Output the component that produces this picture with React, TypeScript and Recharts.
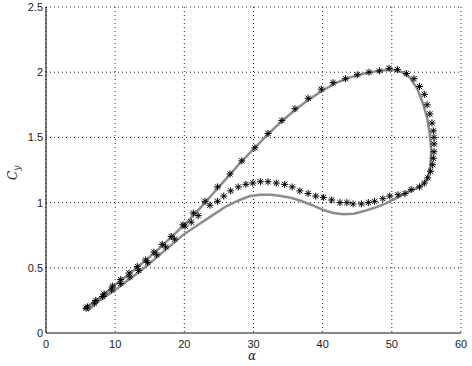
import { ScatterChart, Scatter, XAxis, YAxis, CartesianGrid } from 'recharts'

// gray model curve (loop: upper branch out, lower branch back)
const lineAlpha = [
  5.4, 8, 10, 12, 14, 16, 18, 20, 22, 24, 26, 28, 30, 32, 34, 36, 38, 40, 42, 44, 46, 48, 50,
  51.5, 52.6, 53.7, 54.5, 55.1, 55.5, 55.7, 55.6, 55.2, 54.6, 53.5, 52.3, 50.5, 49, 47.5, 46,
  44.5, 43, 41.5, 40, 38.5, 37, 35.5, 34, 32.5, 31, 29.5, 28, 26, 24, 22, 20, 18, 16, 14, 12,
  10, 8, 6
]
const lineCy = [
  0.18, 0.28, 0.37, 0.45, 0.54, 0.63, 0.73, 0.83, 0.94, 1.06, 1.18, 1.3, 1.41, 1.52, 1.62, 1.71,
  1.79, 1.86, 1.92, 1.96, 1.99, 2.01, 2.02, 2.0, 1.96, 1.87, 1.76, 1.65, 1.52, 1.4, 1.28, 1.19,
  1.14, 1.11, 1.08, 1.03, 0.99, 0.96, 0.935, 0.915, 0.91, 0.92, 0.945, 0.98, 1.01, 1.035, 1.05,
  1.06, 1.06, 1.05, 1.02, 0.97, 0.9, 0.83, 0.76, 0.67, 0.58, 0.49, 0.41, 0.33, 0.26, 0.17
]

// measured points (asterisks)
const starAlpha = [
  6.0, 7.2, 8.4, 9.6, 10.8, 12.0, 13.2, 14.4, 15.6, 16.8, 18.1, 19.8, 21.3, 23.0, 24.8, 26.6,
  28.3, 30.2, 32.1, 34.1, 36.0, 37.9, 39.8, 41.5, 43.3, 45.0, 46.7, 48.2, 49.6, 50.8, 52.1, 53.2,
  54.0, 54.7, 55.1, 55.5, 55.8, 56.0, 56.1, 56.1, 56.1, 56.0, 55.9, 55.6, 55.2, 54.7, 54.0, 52.8,
  51.9, 50.9, 49.7, 48.7, 47.5, 46.6, 45.6, 44.4, 43.5, 42.5, 41.3, 40.1, 39.0, 37.9, 36.7, 35.6,
  34.5, 33.3, 32.1, 31.0, 29.9, 28.9, 27.8, 26.7, 25.7, 24.8, 23.7, 22.0, 21.0, 20.1, 18.6, 17.3,
  16.0, 14.7, 13.4, 12.1, 10.8, 9.5, 8.2, 7.0, 5.8
]
const starCy = [
  0.2, 0.25, 0.3, 0.36, 0.41, 0.46, 0.51, 0.56, 0.62, 0.68, 0.74, 0.83, 0.92, 1.01, 1.12, 1.22,
  1.32, 1.42, 1.53, 1.63, 1.72, 1.8, 1.87, 1.92, 1.95, 1.98, 2.0, 2.01, 2.03, 2.02, 1.99, 1.95,
  1.89, 1.83, 1.75, 1.68, 1.61, 1.55, 1.5, 1.45, 1.39, 1.34, 1.29, 1.24, 1.19, 1.15, 1.12, 1.1,
  1.07, 1.06, 1.05, 1.03, 1.01, 1.0, 0.99, 0.99, 1.0, 1.0, 1.02, 1.04, 1.05, 1.07, 1.09, 1.12,
  1.14, 1.15, 1.16, 1.16, 1.15, 1.14, 1.12, 1.09, 1.05, 1.01, 0.98, 0.9, 0.85, 0.82, 0.72, 0.66,
  0.6, 0.54, 0.48, 0.43, 0.38, 0.33, 0.28, 0.23, 0.19
]

const xTicks = [0, 10, 20, 30, 40, 50, 60]
const yTicks = [0, 0.5, 1, 1.5, 2, 2.5]

const lineData = lineAlpha.map((a, i) => ({ alpha: a, cy: lineCy[i] }))
const starData = starAlpha.map((a, i) => ({ alpha: a, cy: starCy[i] }))

const NoDot = () => <g />

const Asterisk = ({ cx, cy }: any) => {
  const r = 3.5
  const d = 2.6
  return (
    <g stroke="#000" strokeWidth={1}>
      <line x1={cx - r} y1={cy} x2={cx + r} y2={cy} />
      <line x1={cx} y1={cy - r} x2={cx} y2={cy + r} />
      <line x1={cx - d} y1={cy - d} x2={cx + d} y2={cy + d} />
      <line x1={cx - d} y1={cy + d} x2={cx + d} y2={cy - d} />
    </g>
  )
}

const yFmt = (v: number) => String(v)

export default function App() {
  const font = 'Liberation Sans, Arial, sans-serif'
  return (
    <div style={{ position: 'absolute', left: 0, top: 0, width: 472, height: 366, background: '#fff' }}>
      <ScatterChart
        width={472}
        height={366}
        margin={{ top: 7, right: 11, left: 6, bottom: 11 }}
      >
        <CartesianGrid stroke="#222" strokeDasharray="1 3" />
        <XAxis
          type="number"
          dataKey="alpha"
          domain={[0, 60]}
          ticks={xTicks}
          height={22}
          tickLine={false}
          tickSize={4}
          tickMargin={3}
          stroke="#888"
          strokeWidth={2}
          tick={{ fill: '#222', fontSize: 11, fontFamily: font }}
        />
        <YAxis
          type="number"
          dataKey="cy"
          domain={[0, 2.5]}
          ticks={yTicks}
          width={40}
          tickFormatter={yFmt}
          tickLine={false}
          tickSize={1}
          tickMargin={2}
          stroke="#000"
          tick={{ fill: '#222', fontSize: 11, fontFamily: font }}
        />
        <Scatter
          data={lineData}
          line={{ stroke: '#8c8c8c', strokeWidth: 2.5 }}
          lineType="joint"
          shape={NoDot}
          isAnimationActive={false}
        />
        <Scatter data={starData} shape={Asterisk} isAnimationActive={false} />
      </ScatterChart>
      <div
        style={{
          position: 'absolute',
          left: 248,
          top: 350,
          lineHeight: '12px',
          fontFamily: 'DejaVu Serif, serif',
          fontStyle: 'italic',
          fontSize: 12,
          color: '#222'
        }}
      >
        α
      </div>
      <svg style={{ position: 'absolute', left: 0, top: 150 }} width={24} height={40}>
        <text
          transform="translate(17,30) rotate(-90)"
          fontFamily="DejaVu Serif, serif"
          fontStyle="italic"
          fontSize={12}
          fill="#222"
        >
          C<tspan fontSize={9} dy={3}>y</tspan>
        </text>
      </svg>
    </div>
  )
}
